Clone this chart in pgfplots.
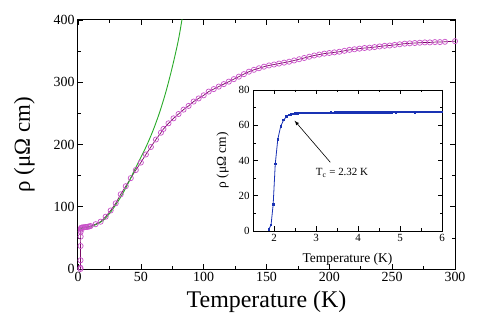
\documentclass[border=0pt]{standalone}
\usepackage{fontspec}
\setmainfont{Liberation Serif}
\usepackage{pgfplots}
\pgfplotsset{compat=1.18}

\definecolor{circ}{RGB}{200,80,200}
\definecolor{purp}{RGB}{120,10,100}
\definecolor{fitgreen}{RGB}{40,170,40}
\definecolor{inblue}{RGB}{25,50,180}

\begin{document}
\begin{tikzpicture}
\useasboundingbox (-78bp,-58bp) rectangle (413bp,269bp);

% main panel
\begin{axis}[
  at={(0,0)}, anchor=south west,
  scale only axis, width=377bp, height=249bp,
  xmin=0, xmax=300, ymin=0, ymax=400,
  xtick={0,50,...,300}, ytick={0,100,...,400},
  minor x tick num=1, minor y tick num=1,
  major tick length=5bp, minor tick length=3bp,
  tick style={black, line width=0.6bp},
  axis line style={line width=1bp},
  /pgf/number format/assume math mode=true,
  xticklabel={\pgfmathprintnumber{\tick}},
  yticklabel={\pgfmathprintnumber{\tick}},
  tick label style={font=\rmfamily\fontsize{14}{14}\selectfont},
  xlabel={Temperature (K)},
  ylabel={ρ (μΩ cm)},
  xlabel style={font=\fontsize{24}{24}\selectfont, at={(axis description cs:0.5,-0.075)}, anchor=north},
  ylabel style={font=\fontsize{23}{23}\selectfont, at={(axis description cs:-0.105,0.5)}, anchor=south},
]
\addplot[purp, line width=0.7bp, mark=o, mark size=2.6bp,
  mark options={draw=circ, line width=0.7bp, fill=none}] table {
1.9 0
1.95 2
2.0 14
2.05 37
2.1 52
2.15 60
2.2 63
2.3 65
2.5 66
3 66.5
4 67
5 67
6 67.5
7 67.5
8 68
9 68.5
10 69
14 72
18 76
22 84
26 94
30 105.5
34 120
38 133
42 146
46 159
50 171
54 184
58 196
62 208
66 219
68 225
72 234
76 242
80 249
84 256
88 262
92 269
96 274
100 279
104 285
108 289
112 293
116 297
120 301
124 305
128 309
132 313
136 317
140 320
144 322.5
148 325
152 327
156 328.5
160 330
164 331.5
168 333
172 335
176 337
180 339
184 341
188 343
192 344.5
196 346
200 347
204 348
208 349
212 350.5
216 352
220 353
224 354
228 355
232 355.5
236 356.5
240 357.5
244 358.5
248 359
252 360
256 361
260 362
264 362.5
268 363
272 363.5
276 364
280 364
284 364.5
288 364.5
292 365
300 366
};
\addplot[fitgreen, line width=0.9bp, smooth, no markers] table {
2 65
5 66
10 68
15 72
20 78
25 89
30 103
35 119
40 138
45 159
50 179
55 200
60 224
65 252
70 285
75 324
80 369
84 416
};
\end{axis}

% inset
\begin{axis}[
  at={(175bp,38bp)}, anchor=south west,
  scale only axis, width=189bp, height=141bp,
  axis background/.style={fill=white},
  xmin=1.5, xmax=6, ymin=0, ymax=80,
  xtick={2,...,6}, ytick={0,20,...,80},
  minor x tick num=1, minor y tick num=1,
  major tick length=4.5bp, minor tick length=2.5bp,
  tick style={black, line width=0.6bp},
  axis line style={line width=0.9bp},
  /pgf/number format/assume math mode=true,
  xticklabel={\pgfmathprintnumber{\tick}},
  yticklabel={\pgfmathprintnumber{\tick}},
  tick label style={font=\rmfamily\fontsize{11}{11}\selectfont},
  xlabel={Temperature (K)},
  ylabel={ρ (μΩ cm)},
  xlabel style={font=\fontsize{13.5}{13.5}\selectfont, at={(axis description cs:0.5,-0.13)}, anchor=north},
  ylabel style={font=\fontsize{13.5}{13.5}\selectfont, at={(axis description cs:-0.11,0.5)}, anchor=south},
]
\addplot[inblue, line width=0.8bp, mark=square*, mark size=0.8bp] table {
1.88 1
1.93 3.5
1.98 15
2.03 38
2.09 52
2.16 59.5
2.23 63
2.30 65
2.35 65.8
2.40 66.2
2.45 66.5
2.50 66.7
2.55 66.8
2.60 66.9
2.65 66.9
2.70 67.0
2.75 67.0
2.80 67.0
2.85 67.0
2.90 67.0
2.95 67.1
3.00 67.1
3.05 67.0
3.10 67.1
3.15 67.1
3.20 67.1
3.25 67.1
3.30 67.1
3.35 67.2
3.40 67.1
3.45 67.2
3.50 67.2
3.55 67.2
3.60 67.2
3.65 67.2
3.70 67.2
3.75 67.2
3.80 67.3
3.85 67.2
3.90 67.3
3.95 67.3
4.00 67.3
4.05 67.3
4.10 67.3
4.15 67.3
4.20 67.3
4.25 67.3
4.30 67.4
4.35 67.3
4.40 67.4
4.45 67.4
4.50 67.4
4.55 67.4
4.60 67.4
4.65 67.4
4.70 67.4
4.75 67.4
4.80 67.4
4.85 67.5
4.90 67.4
4.95 67.5
5.00 67.5
5.05 67.5
5.10 67.5
5.15 67.5
5.20 67.5
5.25 67.5
5.30 67.6
5.35 67.4
5.40 67.5
5.45 67.5
5.50 67.5
5.55 67.5
5.60 67.6
5.65 67.6
5.70 67.5
5.75 67.6
5.80 67.6
5.85 67.6
5.90 67.6
5.95 67.6
6.00 67.6
};
\draw[-latex, line width=0.6bp] (axis cs:3.34,39) -- (axis cs:2.49,62.6);
\node[font=\fontsize{11}{11}\selectfont, anchor=center] at (axis cs:3.62,33) {T\textsubscript{c} = 2.32 K};
\end{axis}
\end{tikzpicture}
\end{document}
